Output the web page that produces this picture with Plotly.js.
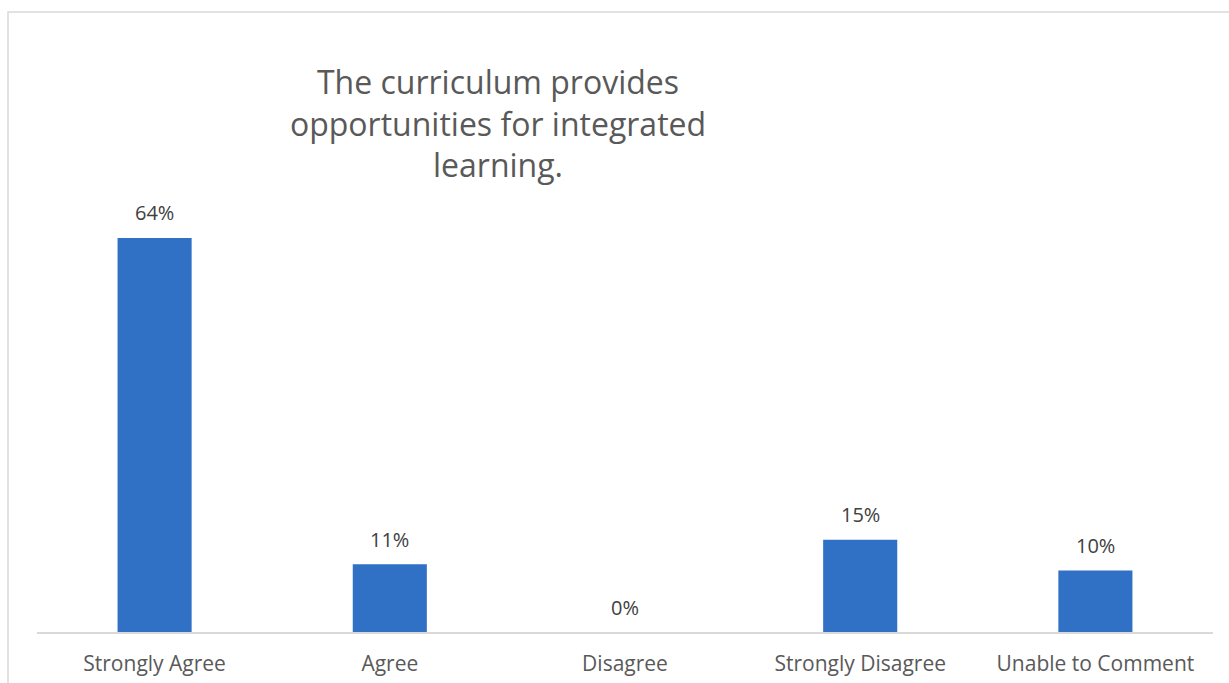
<!DOCTYPE html>
<html>
<head>
<meta charset="utf-8">
<script src="https://cdn.plot.ly/plotly-3.0.1.min.js"></script>
<style>
  html, body { margin: 0; padding: 0; background: #ffffff; }
  #chart { width: 1229px; height: 683px; }
</style>
</head>
<body>
<div id="chart"></div>
<script>
const categories = ["Strongly Agree", "Agree", "Disagree", "Strongly Disagree", "Unable to Comment"];
const values = [64, 11, 0, 15, 10];
const labels = ["64%", "11%", "0%", "15%", "10%"];
const chartTitle = "The curriculum provides<br>opportunities for integrated<br>learning.";

const textColor = "#595959";
const fontFamily = "'Open Sans', 'Noto Sans', sans-serif";

const trace = {
  type: "bar",
  x: categories,
  y: values,
  marker: { color: "#3070C5" },
  hoverinfo: "x+y"
};

const annotations = categories.map((c, i) => ({
  x: c,
  y: values[i],
  xref: "x",
  yref: "y",
  text: labels[i],
  showarrow: false,
  yanchor: "middle",
  yshift: 25,
  font: { family: fontFamily, size: 20, color: "#404040" }
}));

const layout = {
  width: 1229,
  height: 683,
  margin: { l: 37, r: 16, t: 201, b: 51 },
  paper_bgcolor: "#ffffff",
  plot_bgcolor: "#ffffff",
  bargap: 0.685,
  showlegend: false,
  title: {
    text: chartTitle,
    xref: "container",
    yref: "container",
    x: 498 / 1229,
    xanchor: "center",
    y: 1 - 94 / 683,
    yanchor: "top",
    font: { family: fontFamily, size: 32, color: textColor }
  },
  xaxis: {
    type: "category",
    showline: true,
    linecolor: "#d9d9d9",
    linewidth: 1.5,
    ticks: "",
    showgrid: false,
    zeroline: false,
    ticklabelstandoff: 12,
    tickfont: { family: fontFamily, size: 21, color: textColor }
  },
  yaxis: {
    range: [0, 70],
    showline: false,
    showgrid: false,
    zeroline: false,
    showticklabels: false,
    ticks: ""
  },
  annotations: annotations,
  shapes: [{
    type: "rect",
    xref: "paper",
    yref: "paper",
    x0: (8 - 37) / 1176,
    x1: (1240 - 37) / 1176,
    y0: (632 - 700) / 431,
    y1: (632 - 12) / 431,
    line: { color: "#d9d9d9", width: 1.5 },
    fillcolor: "rgba(0,0,0,0)",
    layer: "below"
  }]
};

Plotly.newPlot("chart", [trace], layout, { displayModeBar: false, staticPlot: true });
</script>
</body>
</html>
